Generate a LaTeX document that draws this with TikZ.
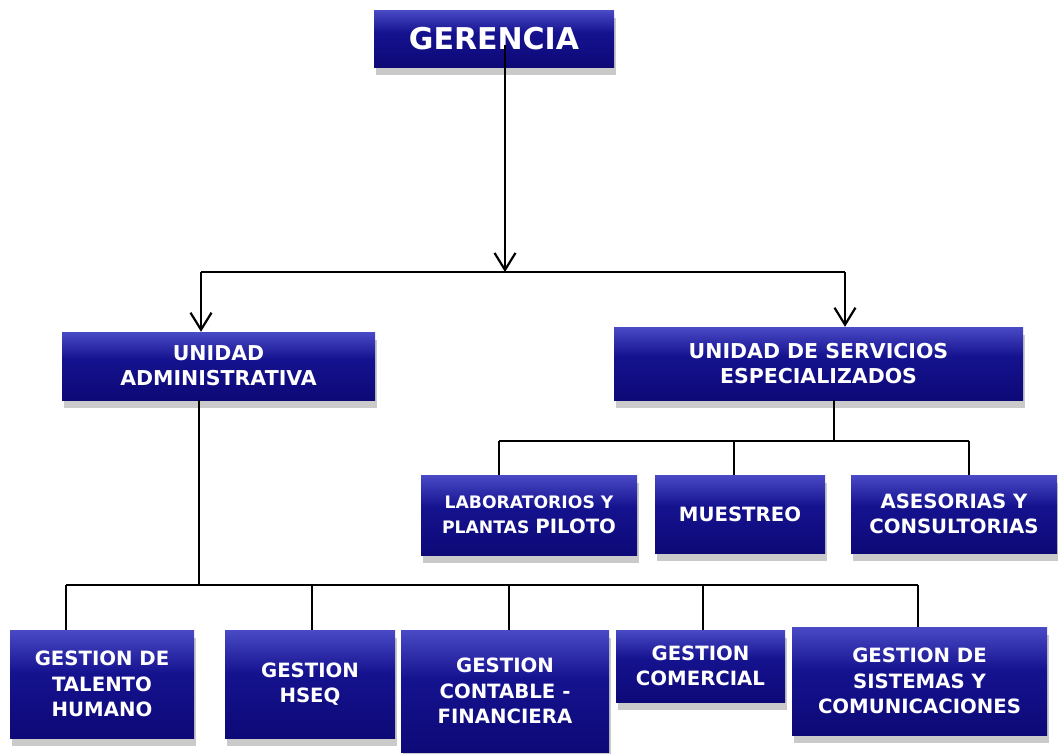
\documentclass[tikz,border=0pt]{standalone}
\usepackage{fontspec}
\setmainfont{DejaVu Sans}
\usetikzlibrary{arrows.meta,shadows,calc}
\definecolor{boxtop}{HTML}{4A4AC6}
\definecolor{boxmid}{HTML}{15128F}
\definecolor{boxbot}{HTML}{0D0977}
\definecolor{shadowgray}{HTML}{CACACA}
\pgfdeclareverticalshading{boxshade}{100bp}{color(0bp)=(boxbot); color(25bp)=(boxbot); color(55bp)=(boxmid); color(75bp)=(boxtop); color(100bp)=(boxtop)}
\tikzset{
  orgbox/.style={shading=boxshade, text=white, align=center, inner sep=0pt,
    font=\bfseries\fontsize{19.7}{25.5}\selectfont,
    general shadow={fill=shadowgray, shadow xshift=1.5pt, shadow yshift=-8pt}},
  conn/.style={line width=2.2pt, black},
  arr/.style={conn, -{Straight Barb[length=17pt,width=21pt]}},
}
\begin{document}
\begin{tikzpicture}[x=1pt,y=-1pt]
\useasboundingbox (0,0) rectangle (1058,753);
% boxes
\node[orgbox, minimum width=240, minimum height=57, font=\bfseries\fontsize{30}{34}\selectfont] (ger) at (494,38.5) {GERENCIA};
\node[orgbox, minimum width=313, minimum height=68, font=\bfseries\fontsize{20.5}{25}\selectfont] (ua) at (218.5,366) {UNIDAD\\ADMINISTRATIVA};
\node[orgbox, minimum width=409, minimum height=73, font=\bfseries\fontsize{20.5}{25}\selectfont] (use) at (818.5,363.5) {UNIDAD DE SERVICIOS\\ESPECIALIZADOS};
\node[orgbox, minimum width=216, minimum height=80, font=\bfseries\fontsize{17.2}{25}\selectfont] (lab) at (529,515) {LABORATORIOS Y\\PLANTAS {\fontsize{19.7}{25}\selectfont PILOTO}};
\node[orgbox, minimum width=170, minimum height=78] (mue) at (740,514) {MUESTREO};
\node[orgbox, minimum width=206, minimum height=78] (ase) at (954,514) {ASESORIAS Y\\CONSULTORIAS};
\node[orgbox, minimum width=184, minimum height=108] (tal) at (102,684) {GESTION DE\\TALENTO\\HUMANO};
\node[orgbox, minimum width=170, minimum height=108] (hseq) at (310,684) {GESTION\\HSEQ};
\node[orgbox, minimum width=208, minimum height=122] (cont) at (505,691) {GESTION\\CONTABLE -\\FINANCIERA};
\node[orgbox, minimum width=169, minimum height=72] (com) at (700.5,666) {GESTION\\COMERCIAL};
\node[orgbox, minimum width=255, minimum height=108] (sis) at (919.5,681) {GESTION DE\\SISTEMAS Y\\COMUNICACIONES};
% junction coordinates
\coordinate (j0) at (505,272);
\coordinate (jL) at (201,272);
\coordinate (jR) at (845,272);
\coordinate (b0) at (199,585);
\coordinate (b1) at (66,585);
\coordinate (b2) at (312,585);
\coordinate (b3) at (509,585);
\coordinate (b4) at (703,585);
\coordinate (b5) at (918,585);
\coordinate (s0) at (834,441);
\coordinate (s1) at (499,441);
\coordinate (s2) at (734,441);
\coordinate (s3) at (969,441);
% connectors
\draw[arr] ($(ger.center -| j0)+(0,6)$) -- (j0);
\draw[conn] (jL) -- (jR);
\draw[arr] (jL) -- (ua.north -| jL);
\draw[arr] (jR) -- (use.north -| jR);
\draw[conn] (ua.south -| b0) -- (b0);
\draw[conn] (b1) -- (b5);
\draw[conn] (b1) -- (tal.north -| b1);
\draw[conn] (b2) -- (hseq.north -| b2);
\draw[conn] (b3) -- (cont.north -| b3);
\draw[conn] (b4) -- (com.north -| b4);
\draw[conn] (b5) -- (sis.north -| b5);
\draw[conn] (use.south -| s0) -- (s0);
\draw[conn] (s1) -- (s3);
\draw[conn] (s1) -- (lab.north -| s1);
\draw[conn] (s2) -- (mue.north -| s2);
\draw[conn] (s3) -- (ase.north -| s3);
\end{tikzpicture}
\end{document}
